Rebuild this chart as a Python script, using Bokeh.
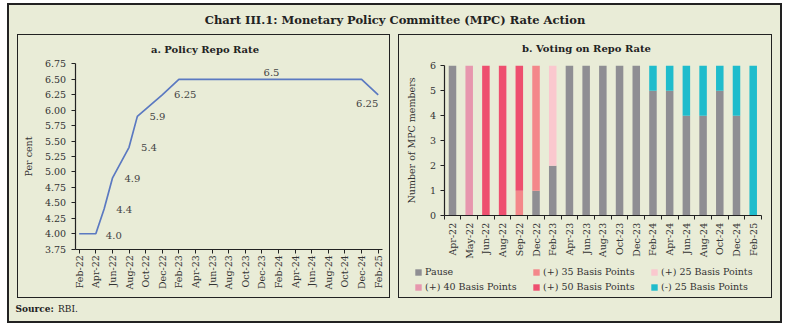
import math
from bokeh.plotting import figure
from bokeh.models import (ColumnDataSource, FixedTicker, Legend, LegendItem, Label,
                          Range1d, NumeralTickFormatter)
from bokeh.layouts import column, row
from bokeh.embed import file_html
from bokeh.resources import INLINE
from bokeh.core.properties import value

# ---------------- data ----------------
rate_dates = ["Feb-22", "Apr-22", "May-22", "Jun-22", "Aug-22", "Sep-22", "Dec-22",
              "Feb-23", "Apr-23", "Jun-23", "Aug-23", "Oct-23", "Dec-23",
              "Feb-24", "Apr-24", "Jun-24", "Aug-24", "Oct-24", "Dec-24", "Feb-25"]
rate_values = [4.0, 4.0, 4.4, 4.9, 5.4, 5.9, 6.25,
               6.5, 6.5, 6.5, 6.5, 6.5, 6.5,
               6.5, 6.5, 6.5, 6.5, 6.5, 6.5, 6.25]

label_dates = ["Apr-22", "May-22", "Jun-22", "Aug-22", "Sep-22", "Dec-22", "Feb-24", "Feb-25"]
label_texts = ["4.0", "4.4", "4.9", "5.4", "5.9", "6.25", "6.5", "6.25"]

left_tick_labels = ["Feb-22", "Apr-22", "Jun-22", "Aug-22", "Oct-22", "Dec-22",
                    "Feb-23", "Apr-23", "Jun-23", "Aug-23", "Oct-23", "Dec-23",
                    "Feb-24", "Apr-24", "Jun-24", "Aug-24", "Oct-24", "Dec-24", "Feb-25"]
left_y_ticks = [3.75, 4.00, 4.25, 4.50, 4.75, 5.00, 5.25, 5.50, 5.75, 6.00, 6.25, 6.50, 6.75]
left_y_min, left_y_max = 3.75, 6.75

vote_meetings = ["Apr-22", "May-22", "Jun-22", "Aug-22", "Sep-22", "Dec-22", "Feb-23",
                 "Apr-23", "Jun-23", "Aug-23", "Oct-23", "Dec-23",
                 "Feb-24", "Apr-24", "Jun-24", "Aug-24", "Oct-24", "Dec-24", "Feb-25"]
pause   = [6, 0, 0, 0, 0, 1, 2, 6, 6, 6, 6, 6, 5, 5, 4, 4, 5, 4, 0]
plus35  = [0, 0, 0, 0, 1, 5, 0, 0, 0, 0, 0, 0, 0, 0, 0, 0, 0, 0, 0]
plus25  = [0, 0, 0, 0, 0, 0, 4, 0, 0, 0, 0, 0, 0, 0, 0, 0, 0, 0, 0]
plus40  = [0, 6, 0, 0, 0, 0, 0, 0, 0, 0, 0, 0, 0, 0, 0, 0, 0, 0, 0]
plus50  = [0, 0, 6, 6, 5, 0, 0, 0, 0, 0, 0, 0, 0, 0, 0, 0, 0, 0, 0]
minus25 = [0, 0, 0, 0, 0, 0, 0, 0, 0, 0, 0, 0, 1, 1, 2, 2, 1, 2, 6]
vote_y_ticks = [0, 1, 2, 3, 4, 5, 6]

series_names = ["Pause", "(+) 35 Basis Points", "(+) 25 Basis Points",
                "(+) 40 Basis Points", "(+) 50 Basis Points", "(-) 25 Basis Points"]

# ---------------- styles / layout ----------------
BG = "#e9ecd7"
FONT = "DejaVu Serif"
TXT = "#333333"
AX = "#222222"
LINE_COLOR = "#5b79c1"
BAR_COLORS = ["#8f8e93", "#f4878a", "#fac8ce", "#e797ae", "#ee4f6f", "#1fbccc"]
label_dx = [18, 20, 20, 20, 20, 23, -7, -11]
label_dy = [2, 0, 0, 0, 0, 0, -7, 9]

PANEL_W_L, PANEL_W_R, PANEL_H = 373, 374, 264
EDGE = 2  # px between panel border and plotting frame

MONTHS = ["Jan", "Feb", "Mar", "Apr", "May", "Jun", "Jul", "Aug", "Sep", "Oct", "Nov", "Dec"]


def month_index(s):
    m, y = s.split("-")
    return (int(y) - 22) * 12 + MONTHS.index(m) - 1   # Feb-22 -> 0


class PxMap:
    """Maps panel-pixel positions to data units for a frame spanning the whole panel."""
    def __init__(self, w, h, x_a, px_a, x_b, px_b, y_a, py_a, y_b, py_b):
        self.w, self.h = w, h
        self.kx = (x_b - x_a) / (px_b - px_a)
        self.ky = (y_b - y_a) / (py_b - py_a)
        self.x_a, self.px_a, self.y_a, self.py_a = x_a, px_a, y_a, py_a

    def x(self, px):
        return self.x_a + (px - self.px_a) * self.kx

    def y(self, py):
        return self.y_a + (py - self.py_a) * self.ky

    def ranges(self):
        return (Range1d(self.x(EDGE), self.x(self.w - EDGE)),
                Range1d(self.y(self.h - EDGE), self.y(EDGE)))


def style_axis(ax):
    ax.axis_line_color = AX
    ax.axis_line_width = 1.2
    ax.major_tick_line_color = AX
    ax.major_tick_in = 0
    ax.major_tick_out = 4
    ax.minor_tick_line_color = None
    ax.major_label_text_font = FONT
    ax.major_label_text_font_size = "9.5px"
    ax.major_label_text_color = TXT
    ax.axis_label_text_font = FONT
    ax.axis_label_text_font_size = "9.5px"
    ax.axis_label_text_font_style = "normal"
    ax.axis_label_text_color = TXT


def panel_figure(w, xr, yr):
    f = figure(width=w, height=PANEL_H, x_range=xr, y_range=yr,
               output_backend="svg", toolbar_location=None,
               min_border_left=EDGE, min_border_right=EDGE,
               min_border_top=EDGE, min_border_bottom=EDGE,
               background_fill_color=BG, border_fill_color=BG, outline_line_color=None)
    f.grid.visible = False
    f.styles = {"border": "1.5px solid #222", "box-sizing": "border-box"}
    return f


def panel_title(f, m, text, cx, cy):
    f.add_layout(Label(x=m.x(cx), y=m.y(cy), text=text, text_font=FONT,
                       text_font_style="bold", text_font_size="10px", text_color="#222222",
                       text_align="center", text_baseline="middle"))


# ---------------- left panel ----------------
# panel-pixel calibration: Feb-22 at 60.7, Feb-25 at 359.7; 3.75 at 213.7, 6.75 at 28.4
ml = PxMap(PANEL_W_L, PANEL_H, 0, 60.7, 36, 359.7, 3.75, 213.7, 6.75, 28.4)
xr, yr = ml.ranges()
left = panel_figure(PANEL_W_L, xr, yr)
panel_title(left, ml, "a. Policy Repo Rate", 186.5, 13.5)

rate_src = ColumnDataSource(dict(x=[month_index(d) for d in rate_dates], y=rate_values))
left.line(x="x", y="y", source=rate_src, line_color=LINE_COLOR, line_width=1.7)

lab_src = ColumnDataSource(dict(
    x=[month_index(d) for d in label_dates],
    y=[rate_values[rate_dates.index(d)] for d in label_dates],
    text=label_texts, dx=label_dx, dy=label_dy))
left.text(x="x", y="y", text="text", x_offset="dx", y_offset="dy", source=lab_src,
          text_font=value(FONT), text_font_size="10px", text_color="#444444",
          text_align="center", text_baseline="middle")

lx, ly = left.xaxis[0], left.yaxis[0]
style_axis(lx)
style_axis(ly)
xt = [month_index(l) for l in left_tick_labels]
lx.fixed_location = left_y_min
lx.bounds = (xt[0] - 0.5, xt[-1] + 0.5)
lx.ticker = FixedTicker(ticks=xt)
lx.major_label_overrides = {t: l for t, l in zip(xt, left_tick_labels)}
lx.major_label_orientation = math.pi / 2
lx.major_label_standoff = 2
ly.fixed_location = xt[0] - 0.5
ly.bounds = (left_y_min, left_y_max)
ly.ticker = FixedTicker(ticks=left_y_ticks)
ly.formatter = NumeralTickFormatter(format="0.00")
ly.major_label_standoff = 5
ly.axis_label = "Per cent"
ly.axis_label_standoff = 8

# ---------------- right panel ----------------
n = len(vote_meetings)
# panel-pixel calibration: first bar at 53, last bar at 353.7; 0 at 180.3, 6 at 30.3
mr = PxMap(PANEL_W_R, PANEL_H, 0, 53.0, n - 1, 353.7, 0, 180.3, 6, 30.3)
xr, yr = mr.ranges()
right = panel_figure(PANEL_W_R, xr, yr)
panel_title(right, mr, "b. Voting on Repo Rate", 187, 13.3)

vote_src = ColumnDataSource(dict(x=list(range(n)), pause=pause, p35=plus35, p25=plus25,
                                 p40=plus40, p50=plus50, m25=minus25))
stack_keys = ["pause", "p35", "p25", "p40", "p50", "m25"]
rs = right.vbar_stack(stack_keys, x="x", width=0.45, color=BAR_COLORS, line_color=None,
                      source=vote_src)

xa, ya = right.xaxis[0], right.yaxis[0]
style_axis(xa)
style_axis(ya)
xa.fixed_location = 0
xa.bounds = (-0.5, n - 0.5)
xa.ticker = FixedTicker(ticks=list(range(n)), minor_ticks=[i - 0.5 for i in range(n + 1)])
xa.major_label_overrides = {i: m for i, m in enumerate(vote_meetings)}
xa.major_label_orientation = math.pi / 2
xa.major_tick_line_color = None
xa.minor_tick_line_color = AX
xa.minor_tick_in = 0
xa.minor_tick_out = 4
xa.major_label_standoff = 3
ya.fixed_location = -0.5
ya.bounds = (vote_y_ticks[0], vote_y_ticks[-1])
ya.ticker = FixedTicker(ticks=vote_y_ticks)
ya.major_label_standoff = 4
ya.axis_label = "Number of MPC members"
ya.axis_label_standoff = 10

items = [LegendItem(label=series_names[i], renderers=[rs[i]]) for i in range(6)]
for its, loc in ((items[0:3], (13, 20)), (items[3:6], (13, 5))):
    leg = Legend(items=its, orientation="horizontal", location=loc, padding=0, margin=0,
                 spacing=2, glyph_width=8, glyph_height=8, label_standoff=3,
                 label_width=105, label_height=10, label_text_font=FONT,
                 label_text_font_size="9.5px", label_text_color=TXT,
                 background_fill_alpha=0, border_line_color=None)
    right.add_layout(leg, "center")

# ---------------- title & source strips ----------------
def strip(h):
    f = figure(width=771, height=h, x_range=Range1d(0, 771), y_range=Range1d(0, h),
               output_backend="svg", toolbar_location=None, x_axis_type=None, y_axis_type=None,
               min_border=0, background_fill_color=BG, border_fill_color=BG,
               outline_line_color=None)
    f.grid.visible = False
    return f

top = strip(29)
top.add_layout(Label(x=385.5, y=15, text="Chart III.1: Monetary Policy Committee (MPC) Rate Action",
                     text_font=FONT, text_font_style="bold", text_font_size="11.5px",
                     text_color="#222222", text_align="center", text_baseline="middle"))

bottom = strip(23)
bottom.add_layout(Label(x=6, y=13, text="Source:", text_font=FONT, text_font_style="bold",
                        text_font_size="9px", text_color="#222222", text_baseline="middle"))
bottom.add_layout(Label(x=48.5, y=13, text="RBI.", text_font=FONT,
                        text_font_size="9px", text_color="#222222", text_baseline="middle"))

panels = row(left, right, spacing=8, margin=(0, 8, 0, 8))
root = column(top, panels, bottom, margin=(3, 0, 0, 7),
              styles={"border": "2px solid #222", "background-color": BG})

open("out.html", "w").write(file_html(root, INLINE))
